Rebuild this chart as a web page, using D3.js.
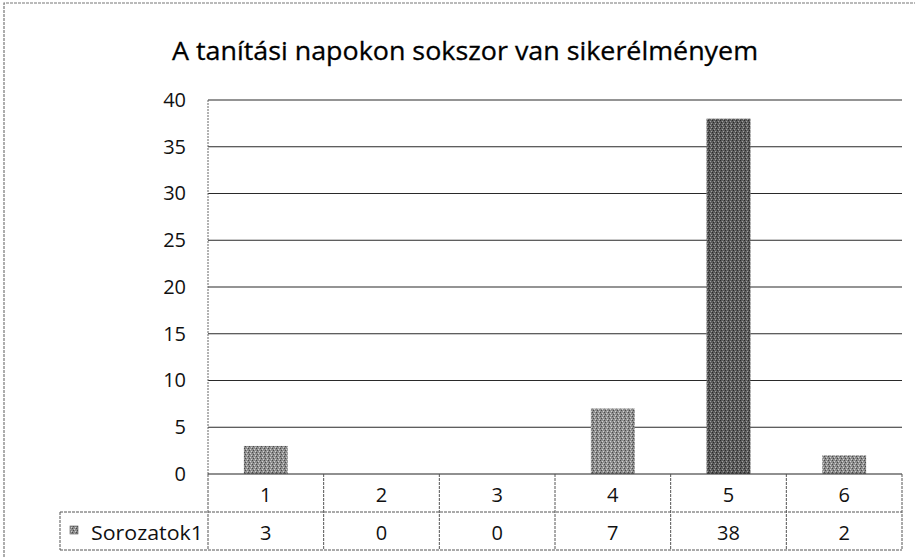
<!DOCTYPE html>
<html>
<head>
<meta charset="utf-8">
<script src="https://cdn.jsdelivr.net/npm/d3@7"></script>
<style>
body { margin: 0; background: #fff; }
text { font-family: "Open Sans", sans-serif; fill: #111; }
</style>
</head>
<body>
<script>
var title = "A tanítási napokon sokszor van sikerélményem";
var categories = ["1", "2", "3", "4", "5", "6"];
var values = [3, 0, 0, 7, 38, 2];
var seriesName = "Sorozatok1";
var yTicks = [0, 5, 10, 15, 20, 25, 30, 35, 40];

var w = 915;
var h = 557;

var plotLeft = 208, plotRight = 902, plotTop = 100, plotBottom = 474;
var rowH = 38;

var svg = d3.select("body")
            .append("svg")
            .attr("width", w)
            .attr("height", h);

// texture for the scanned bars
var defs = svg.append("defs");
function makePattern(id, base, dark, light) {
    var p = defs.append("pattern")
        .attr("id", id)
        .attr("width", 4).attr("height", 4)
        .attr("patternUnits", "userSpaceOnUse");
    p.append("rect").attr("width", 4).attr("height", 4).attr("fill", base);
    p.append("rect").attr("x", 0).attr("y", 0).attr("width", 1).attr("height", 1).attr("fill", dark);
    p.append("rect").attr("x", 2).attr("y", 1).attr("width", 1).attr("height", 1).attr("fill", light);
    p.append("rect").attr("x", 1).attr("y", 2).attr("width", 1).attr("height", 1).attr("fill", dark);
    p.append("rect").attr("x", 3).attr("y", 3).attr("width", 1).attr("height", 1).attr("fill", light);
}
makePattern("lightBar", "#8e8e8e", "#4a4a4a", "#d0d0d0");
makePattern("darkBar", "#5c5c5c", "#2a2a2a", "#a0a0a0");

// outer chart border
svg.append("path")
    .attr("d", "M4," + h + "V3H" + w)
    .attr("fill", "none")
    .attr("stroke", "#777")
    .attr("stroke-width", 1.2)
    .attr("stroke-dasharray", "3,1");

svg.append("text")
    .attr("x", 172)
    .attr("y", 60)
    .attr("textLength", 586)
    .attr("lengthAdjust", "spacingAndGlyphs")
    .style("font-size", "26px")
    .style("fill", "#000")
    .style("stroke", "#000")
    .style("stroke-width", 0.3)
    .text(title);

var y = d3.scaleLinear().domain([0, 40]).range([plotBottom, plotTop]);
var x = d3.scaleBand().domain(categories).range([plotLeft, plotRight]).paddingInner(0.62).paddingOuter(0.31);
var cell = d3.scaleBand().domain(categories).range([plotLeft, plotRight]).padding(0);

// gridlines
svg.selectAll("line.grid")
    .data(yTicks.filter(function(d) { return d > 0; }))
    .enter()
    .append("line")
    .attr("class", "grid")
    .attr("x1", plotLeft).attr("x2", plotRight)
    .attr("y1", function(d) { return y(d); })
    .attr("y2", function(d) { return y(d); })
    .attr("stroke", "#2a2a2a")
    .attr("stroke-width", 1.1);

// y axis labels
var yAxis = d3.axisLeft(y).tickValues(yTicks).tickSize(0).tickPadding(22);
var ya = svg.append("g").attr("transform", "translate(" + plotLeft + ",0)").call(yAxis);
ya.select(".domain").remove();
ya.selectAll("text")
    .style("font-size", "20px")
    .style("font-family", "'Open Sans', sans-serif")
    .attr("fill", "#111");

// vertical axis line
svg.append("line")
    .attr("x1", plotLeft).attr("x2", plotLeft)
    .attr("y1", plotTop).attr("y2", plotBottom)
    .attr("stroke", "#666")
    .attr("stroke-dasharray", "2,1");

// bars
var maxVal = d3.max(values);
svg.selectAll("rect.bar")
    .data(values)
    .enter()
    .append("rect")
    .attr("class", "bar")
    .attr("x", function(d, i) { return x(categories[i]); })
    .attr("width", x.bandwidth())
    .attr("y", function(d) { return y(d); })
    .attr("height", function(d) { return y(0) - y(d); })
    .attr("fill", function(d) { return d == maxVal ? "url(#darkBar)" : "url(#lightBar)"; });

// data table
var tStroke = "#555";
var legendLeft = 60;
svg.append("line").attr("x1", plotLeft).attr("x2", plotRight).attr("y1", plotBottom).attr("y2", plotBottom)
    .attr("stroke", "#222").attr("stroke-width", 1.1);
svg.append("line").attr("x1", legendLeft).attr("x2", plotRight).attr("y1", plotBottom + rowH).attr("y2", plotBottom + rowH)
    .attr("stroke", tStroke).attr("stroke-dasharray", "3,1");
svg.append("line").attr("x1", legendLeft).attr("x2", plotRight).attr("y1", plotBottom + 2 * rowH).attr("y2", plotBottom + 2 * rowH)
    .attr("stroke", tStroke).attr("stroke-dasharray", "3,1");
svg.append("line").attr("x1", legendLeft).attr("x2", legendLeft).attr("y1", plotBottom + rowH).attr("y2", plotBottom + 2 * rowH)
    .attr("stroke", tStroke).attr("stroke-dasharray", "3,1");

svg.selectAll("line.vcell")
    .data(categories.concat(["end"]))
    .enter()
    .append("line")
    .attr("class", "vcell")
    .attr("x1", function(d, i) { return plotLeft + i * cell.step(); })
    .attr("x2", function(d, i) { return plotLeft + i * cell.step(); })
    .attr("y1", plotBottom)
    .attr("y2", plotBottom + 2 * rowH)
    .attr("stroke", tStroke)
    .attr("stroke-dasharray", "3,1");

svg.selectAll("text.cat")
    .data(categories)
    .enter()
    .append("text")
    .attr("class", "cat")
    .attr("x", function(d) { return cell(d) + cell.bandwidth() / 2; })
    .attr("y", plotBottom + 28)
    .attr("text-anchor", "middle")
    .style("font-size", "20px")
    .text(function(d) { return d; });

svg.selectAll("text.val")
    .data(values)
    .enter()
    .append("text")
    .attr("class", "val")
    .attr("x", function(d, i) { return cell(categories[i]) + cell.bandwidth() / 2; })
    .attr("y", plotBottom + rowH + 28)
    .attr("text-anchor", "middle")
    .style("font-size", "20px")
    .text(function(d) { return d; });

// legend key
svg.append("rect")
    .attr("x", 70).attr("y", plotBottom + rowH + 14)
    .attr("width", 8).attr("height", 8)
    .attr("fill", "url(#lightBar)")
    .attr("stroke", "#555").attr("stroke-width", 0.6);
svg.append("text")
    .attr("x", 91)
    .attr("y", plotBottom + rowH + 28)
    .attr("textLength", 112)
    .attr("lengthAdjust", "spacingAndGlyphs")
    .style("font-size", "20px")
    .text(seriesName);
</script>
</body>
</html>
